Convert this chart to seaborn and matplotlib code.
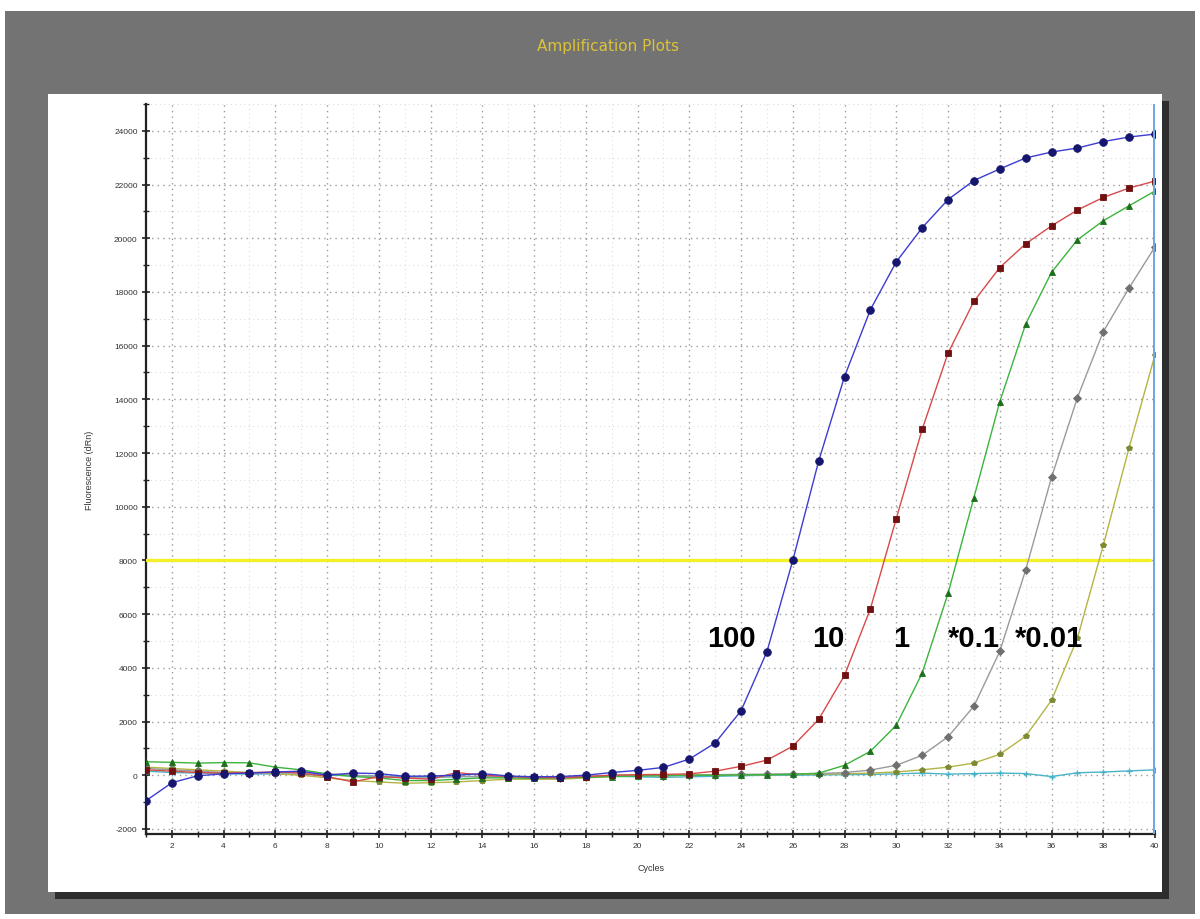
import numpy as np
import pandas as pd
import matplotlib
matplotlib.use("Agg")
import matplotlib.pyplot as plt
import seaborn as sns
from matplotlib.patches import Rectangle
from matplotlib.ticker import MultipleLocator

sns.set_theme(style="white")
plt.rcParams['font.family'] = ['Liberation Sans', 'DejaVu Sans']

cycles = list(range(1, 41))

s100 = [-950, -280, -20, 50, 80, 120, 150, 0, 80, 60, -40, -30, 0, 60, -30, -60, -50, 0, 100, 180,
        290, 600, 1200, 2400, 4600, 8000, 11700, 14850, 17340, 19120, 20390, 21440, 22150, 22580, 22990,
        23210, 23360, 23600, 23770, 23880]
s10 = [200, 150, 100, 80, 100, 120, 80, -50, -250, -50, -100, -150, 100, 0, -50, -80, -100, -50, 0, 20,
       30, 50, 150, 330, 560, 1080, 2080, 3720, 6200, 9560, 12880, 15720, 17650, 18910, 19790, 20460,
       21050, 21520, 21870, 22130]
s1 = [500, 480, 450, 470, 460, 300, 200, 50, -50, -100, -200, -200, -150, -100, -100, -120, -100, -80,
      -50, -30, -20, 0, 0, 10, 20, 30, 75, 370, 890, 1860, 3800, 6770, 10340, 13910, 16800, 18730, 19940,
      20650, 21210, 21760]
s01 = [250, 200, 150, 100, 50, 100, 100, 50, 0, -50, -100, -100, -50, -50, -50, -80, -100, -50, 0, 0,
       -20, 0, 20, 30, 40, 50, 60, 100, 190, 370, 740, 1430, 2570, 4610, 7640, 11090, 14060, 16520,
       18150, 19680]
s001 = [300, 250, 200, 150, 100, 50, 0, -100, -200, -250, -300, -280, -250, -200, -150, -150, -150, -100,
        -50, 0, 0, 0, 10, 20, 20, 30, 40, 50, 80, 120, 200, 300, 450, 780, 1450, 2790, 5100, 8560, 12200,
        15660]
ntc = [150, 100, 80, 60, 40, 50, 30, 0, -20, -30, -50, -60, -50, -50, -70, -80, -60, -50, -40, -60, -80,
       -60, -40, -20, 0, 0, 10, 20, 30, 50, 80, 40, 60, 80, 60, -50, 90, 120, 160, 200]

threshold = 8000
labels = ["100", "10", "1", "*0.1", "*0.01"]
label_x = [23.61, 27.38, 30.18, 33.0, 35.89]
label_y = 5100

series = [
    (ntc, "#48b4c8", "#48b4c8", "+", 4.5),
    (s001, "#b4b444", "#7c8a34", "p", 4),
    (s01, "#9a9a9a", "#707070", "D", 4),
    (s1, "#3cb43c", "#1e6e1e", "^", 4.5),
    (s10, "#d84a4a", "#701010", "s", 4.5),
    (s100, "#3c3cd0", "#16166e", "o", 5.5),
]

W, H = 1200, 920
fig = plt.figure(figsize=(12, 9.2), dpi=100, facecolor="white")

def px_rect(x0, y0, x1, y1, color, z):
    fig.patches.append(Rectangle((x0 / W, 1 - y1 / H), (x1 - x0) / W, (y1 - y0) / H,
                                 transform=fig.transFigure, facecolor=color, edgecolor="none",
                                 zorder=z))

px_rect(5, 12, 1195, 915, "#737373", 0)
px_rect(55, 102, 1169, 900, "#2e2e2e", 1)
px_rect(48, 95, 1162, 893, "white", 2)

fig.text(608 / W, 1 - 47 / H, "Amplification Plots", color="#dcc23a", fontsize=11,
         ha="center", va="center", family=["DejaVu Sans"])

ax = fig.add_axes([146 / W, 1 - 835 / H, (1155 - 146) / W, (835 - 105) / H])
ax.set_facecolor("none")
ax.set_zorder(3)

for vals, lc, mc, mk, ms in series:
    sns.lineplot(x=cycles, y=vals, ax=ax, color=lc, linewidth=1.0, marker=mk, markersize=ms,
                 markerfacecolor=mc, markeredgecolor=mc, markeredgewidth=1.0 if mk == "+" else 0.6,
                 zorder=4)

ax.axhline(threshold, xmin=0, xmax=0.995, color="#f4f028", linewidth=2.4, zorder=3)
ax.axvline(40, color="#70a8dc", linewidth=3.6, zorder=5)

for t, lx in zip(labels, label_x):
    ax.text(lx, label_y, t, fontsize=21, fontweight="bold", color="black", ha="center",
            va="center", zorder=6)

ax.set_xlim(1, 40)
ax.set_ylim(-2190, 25000)
ax.xaxis.set_major_locator(MultipleLocator(2))
ax.xaxis.set_minor_locator(MultipleLocator(1))
ax.yaxis.set_major_locator(MultipleLocator(2000))
ax.yaxis.set_minor_locator(MultipleLocator(1000))
ax.grid(True, which="major", color="#9a9a9a", linestyle=(0, (1, 3)), linewidth=1.0)
ax.grid(True, which="minor", axis="both", color="#dddddd", linestyle=(0, (1, 3)), linewidth=0.8)
ax.set_axisbelow(True)

for s in ["top", "right"]:
    ax.spines[s].set_visible(False)
for s in ["left", "bottom"]:
    ax.spines[s].set_color("#222222")
    ax.spines[s].set_linewidth(1.6)

ax.tick_params(axis="both", which="major", direction="inout", length=6, width=1.2,
               colors="#222222", labelsize=6, left=True, bottom=True, pad=3)
ax.tick_params(axis="both", which="minor", direction="inout", length=4, width=1.0,
               colors="#222222", left=True, bottom=True)
ax.set_xticks(list(range(2, 41, 2)))
ax.set_xticklabels([str(v) for v in range(2, 41, 2)], fontsize=6, color="#333333")
yt = list(range(-2000, 24001, 2000))
ax.set_yticks(yt)
ax.set_yticklabels([str(v) for v in yt], fontsize=6, color="#333333")
ax.set_xlabel("Cycles", fontsize=6.5, color="#333333", labelpad=10)
ax.set_ylabel("Fluorescence (dRn)", fontsize=6.5, color="#333333", labelpad=14)

fig.savefig("out.png", dpi=100, facecolor="white")
